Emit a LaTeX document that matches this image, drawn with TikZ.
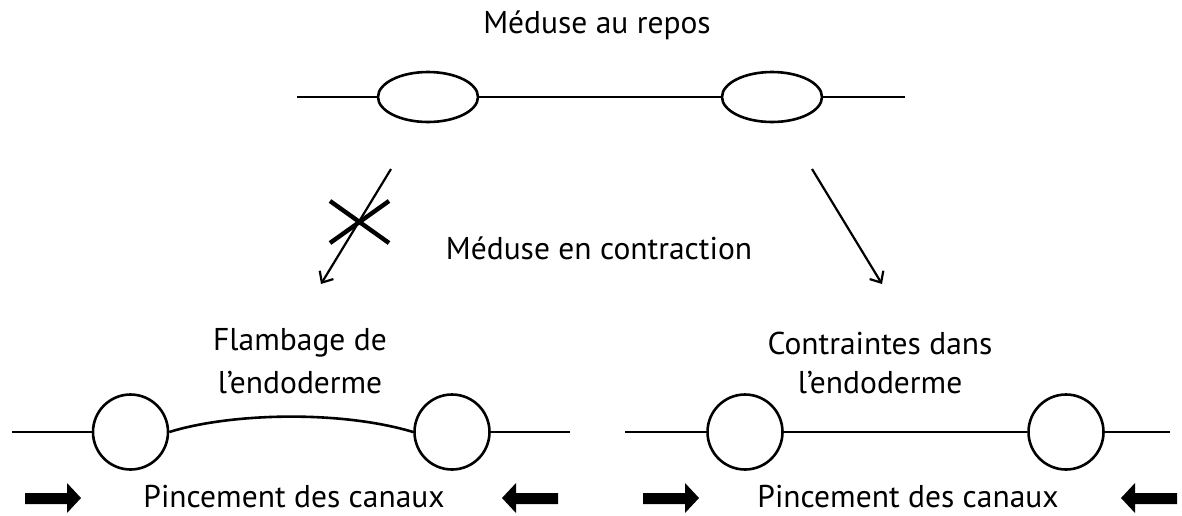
\documentclass[tikz,border=0pt]{standalone}
\usepackage{fontspec}
\setmainfont{PT Sans}
\usetikzlibrary{shapes.geometric,arrows.meta}
\tikzset{
  lbl/.style={font=\fontsize{31.5}{34}\selectfont, inner sep=0pt, align=center},
  oval/.style={draw, ellipse, line width=2.6pt, minimum width=100pt, minimum height=50pt, inner sep=0pt},
  cell/.style={draw, circle, line width=2.6pt, minimum size=75pt, inner sep=0pt},
  wire/.style={line width=2.6pt},
  trans/.style={line width=2.2pt, -{Straight Barb[length=9pt,width=16pt,line width=2.2pt]}},
  push/.style={fill=black, draw=none}
}
\begin{document}
\begin{tikzpicture}[x=1pt,y=-1pt]
\useasboundingbox (0,0) rectangle (1182,515);
% top
\node[lbl] (t1) at (597,25) {Méduse au repos};
\coordinate (tl) at (297,97);
\coordinate (tr) at (905,97);
\node[oval] (e1) at (428,97) {};
\node[oval] (e2) at (772,97) {};
\draw[wire] (tl) -- (e1.west);
\draw[wire] (e1.east) -- (e2.west);
\draw[wire] (e2.east) -- (tr);
% transitions
\coordinate (a1s) at (391,169);
\coordinate (a1e) at (321,284);
\coordinate (a2s) at (812,169);
\coordinate (a2e) at (882,284);
\draw[trans] (a1s) -- (a1e);
\draw[trans] (a2s) -- (a2e);
\draw[line width=4.4pt] (330,201) -- (389,243);
\draw[line width=4.4pt] (389,201) -- (330,243);
\node[lbl] (t2) at (599,248) {Méduse en contraction};
% bottom left
\node[lbl] (t3) at (300,343) {Flambage de};
\node[lbl] (t4) at (300,383) {l’endoderme};
\coordinate (bl1) at (12,432);
\coordinate (bl2) at (570,432);
\node[cell] (c1) at (130.5,432) {};
\node[cell] (c2) at (452,432) {};
\draw[wire] (bl1) -- (c1.west);
\draw[wire] (c1.east) .. controls (230,413) and (340,410) .. (c2.west);
\draw[wire] (c2.east) -- (bl2);
\node[lbl, anchor=base] (t5) at (294,507) {Pincement des canaux};
\fill[push] (25,493) -- (67,493) -- (67,483) -- (81,498) -- (67,513) -- (67,504) -- (25,504) -- cycle;
\fill[push] (558,493) -- (516,493) -- (516,483) -- (502,498) -- (516,513) -- (516,504) -- (558,504) -- cycle;
% bottom right
\node[lbl] (t6) at (880,343) {Contraintes dans};
\node[lbl] (t7) at (880,383) {l’endoderme};
\coordinate (br1) at (625,432);
\coordinate (br2) at (1170,432);
\node[cell] (c3) at (745,432) {};
\node[cell] (c4) at (1066,432) {};
\draw[wire] (br1) -- (c3.west);
\draw[wire] (c3.east) -- (c4.west);
\draw[wire] (c4.east) -- (br2);
\node[lbl, anchor=base] (t8) at (908,507) {Pincement des canaux};
\fill[push] (643,493) -- (685,493) -- (685,483) -- (699,498) -- (685,513) -- (685,504) -- (643,504) -- cycle;
\fill[push] (1177,493) -- (1135,493) -- (1135,483) -- (1121,498) -- (1135,513) -- (1135,504) -- (1177,504) -- cycle;
\end{tikzpicture}
\end{document}
